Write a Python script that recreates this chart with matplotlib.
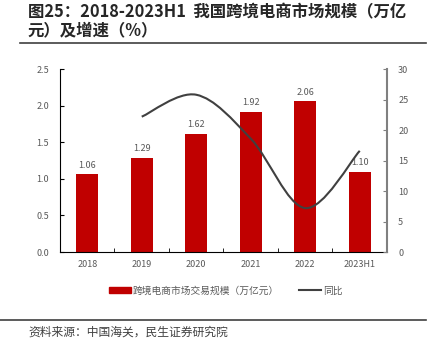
import matplotlib
matplotlib.use("Agg")
import matplotlib.pyplot as plt
from matplotlib.path import Path
from matplotlib.patches import PathPatch
import numpy as np

plt.rcParams['font.family'] = ['Noto Sans CJK SC', 'DejaVu Sans']

years = ['2018', '2019', '2020', '2021', '2022', '2023H1']
scale = [1.06, 1.29, 1.62, 1.92, 2.06, 1.10]
growth_years = [1, 2, 3, 4, 5]
growth = [22.2, 25.8, 18.6, 7.2, 16.6]

bar_color = '#C00000'
line_color = '#404040'
grey = '#595959'


def smooth_path(xs, ys):
    # excel-like smoothed line as cubic bezier segments
    pts = np.column_stack([xs, ys]).astype(float)
    ext = np.vstack([pts[0], pts, pts[-1]])
    verts = [tuple(pts[0])]
    codes = [Path.MOVETO]
    for i in range(len(pts) - 1):
        p0, p1, p2, p3 = ext[i], ext[i + 1], ext[i + 2], ext[i + 3]
        c1 = p1 + (p2 - p0) / 6
        c2 = p2 - (p3 - p1) / 6
        verts += [tuple(c1), tuple(c2), tuple(p2)]
        codes += [Path.CURVE4] * 3
    return Path(verts, codes)


fig = plt.figure(figsize=(4.30, 3.51), dpi=100)
ax = fig.add_axes([0.1395, 0.282, 0.7605, 0.521])
x = np.arange(len(years))
ax.bar(x, scale, width=0.4, color=bar_color, zorder=2)
for xi, v in zip(x, scale):
    ax.text(xi, v + 0.06, f'{v:.2f}', ha='center', va='bottom', fontsize=6.5, color=grey)

ax.set_xlim(-0.5, len(years) - 0.5)
ax.set_ylim(0, 2.5)
ax.set_yticks(np.arange(0, 2.51, 0.5))
ax.set_yticklabels([f'{t:.1f}' for t in np.arange(0, 2.51, 0.5)])
ax.set_xticks(x)
ax.set_xticklabels(years)
ax.set_xticks(np.arange(0.5, len(years) - 0.5, 1), minor=True)
ax.tick_params(axis='x', which='major', length=0, labelsize=6.5, labelcolor=grey, pad=6)
ax.tick_params(axis='x', which='minor', direction='in', length=3, color='black')
ax.tick_params(axis='y', direction='in', length=3, labelsize=6.5, labelcolor=grey, pad=8)
ax.spines['top'].set_visible(False)
ax.spines['right'].set_visible(False)

ax2 = ax.twinx()
ax2.set_ylim(0, 30)
ax2.set_yticks(range(0, 31, 5))
ax2.tick_params(axis='y', direction='in', length=3, labelsize=6.5, labelcolor=grey,
                color='#808080', pad=8)
for s in ['top', 'left', 'bottom']:
    ax2.spines[s].set_visible(False)
ax2.spines['right'].set_color('#808080')
ax2.spines['right'].set_linewidth(1.5)
ax2.add_patch(PathPatch(smooth_path(growth_years, growth), fill=False,
                        edgecolor=line_color, lw=1.5, zorder=3))
ax2.plot([], [], color=line_color, lw=1.5, label='同比')

handles = [plt.Rectangle((0, 0), 1, 1, color=bar_color), ax2.get_lines()[0]]
fig.legend(handles, ['跨境电商市场交易规模（万亿元）', '同比'], loc='center',
           bbox_to_anchor=(0.525, 0.172), ncol=2, frameon=False, fontsize=7,
           labelcolor=grey, handlelength=2.3, handleheight=0.6, handletextpad=0.2,
           columnspacing=2.0)

fig.text(0.065, 0.99, '图25：2018-2023H1  我国跨境电商市场规模（万亿\n元）及增速（%）',
         ha='left', va='top', fontsize=11.8, fontweight='bold', color='#262626',
         linespacing=1.02)
fig.add_artist(plt.Line2D([0.047, 0.99], [0.878, 0.878], color='#404040', lw=1.2))
fig.add_artist(plt.Line2D([0.0, 0.99], [0.088, 0.088], color='#404040', lw=1.2))
fig.text(0.065, 0.055, '资料来源：中国海关，民生证券研究院', ha='left', va='center',
         fontsize=8.5, color='#404040')

fig.savefig('out.png', dpi=100)
